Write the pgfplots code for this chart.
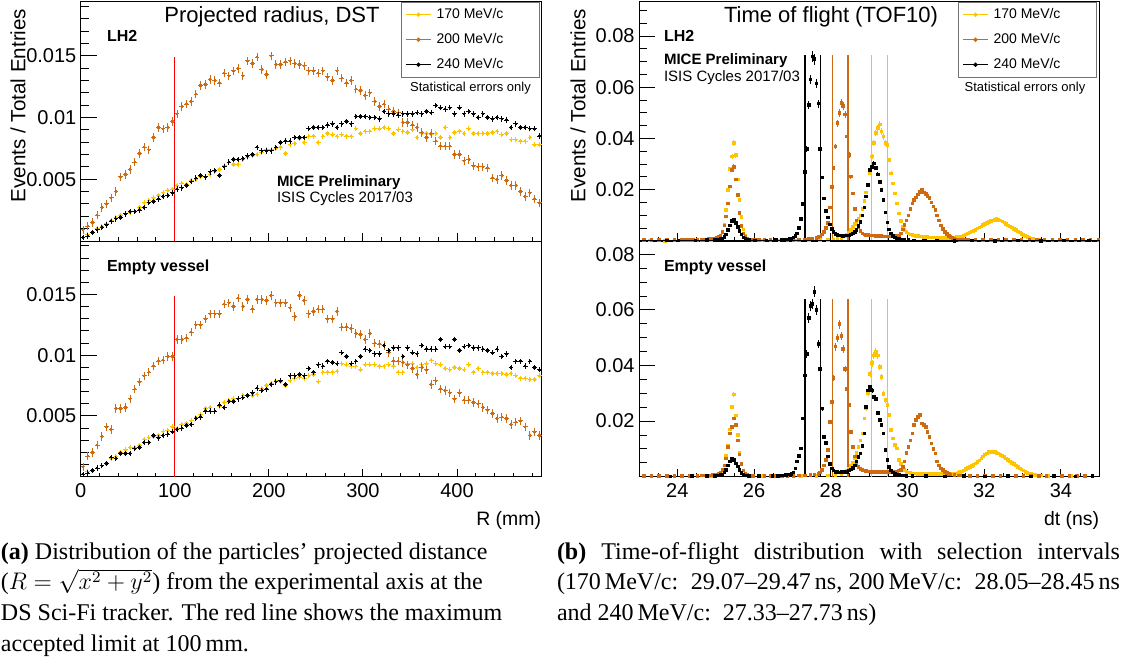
\documentclass[border=0pt]{standalone}
\usepackage{fontspec}
\setmainfont{Liberation Serif}
\setsansfont{Liberation Sans}
\usepackage{pgfplots}
\usepackage{pgfplotstable}
\pgfplotsset{compat=1.18}
\definecolor{c170}{RGB}{255,196,0}
\definecolor{c200}{RGB}{206,106,18}
\definecolor{c240}{RGB}{0,0,0}
\newcommand\tickfont{\sffamily\fontsize{10}{12}\selectfont}
\newcommand\legfont{\sffamily\fontsize{7}{8}\selectfont}

% ROOT-like cross: horizontal bar = bin width (5 mm), vertical bar = error (mark size), small dot
\pgfdeclareplotmark{rootcross}{%
  \pgfpathmoveto{\pgfqpoint{-1.18pt}{0pt}}\pgfpathlineto{\pgfqpoint{1.18pt}{0pt}}%
  \pgfpathmoveto{\pgfqpoint{0pt}{-\pgfplotmarksize}}\pgfpathlineto{\pgfqpoint{0pt}{\pgfplotmarksize}}%
  \pgfusepathqstroke
  \pgfpathrectangle{\pgfqpoint{-0.6pt}{-0.6pt}}{\pgfqpoint{1.2pt}{1.2pt}}\pgfusepathqfill}

\pgfplotsset{
 rootax/.style={scale only axis, anchor=south west, tick align=inside, xtick pos=left, ytick pos=left,
   axis line style={black, line width=0.5pt}, every tick/.style={black, line width=0.5pt},
   ticklabel style={font=\tickfont}, yticklabel style={inner sep=0pt, xshift=-2pt},
   xticklabel style={inner sep=0pt, yshift=-3pt}, scaled ticks=false,
   major tick length=8pt, minor tick length=4pt,
   major x tick style={/pgfplots/major tick length=4pt},
   minor x tick style={/pgfplots/minor tick length=2pt}},
 leftax/.style={xmin=0, xmax=490, ymin=0, ymax=0.0194, width=230.5pt,
   xtick={0,100,200,300,400}, minor xtick={20,40,60,80,120,140,160,180,220,240,260,280,320,340,360,380,420,440,460,480},
   ytick={0.005,0.01,0.015}, yticklabels={0.005,0.01,0.015},
   minor ytick={0.001,0.002,0.003,0.004,0.006,0.007,0.008,0.009,0.011,0.012,0.013,0.014,0.016,0.017,0.018,0.019}},
 rightax/.style={xmin=23, xmax=35, ymin=0, width=230.15pt,
   xtick={24,26,28,30,32,34}, minor xtick={23.5,24.5,25,25.5,26.5,27,27.5,28.5,29,29.5,30.5,31,31.5,32.5,33,33.5,34.5},
   ytick={0.02,0.04,0.06,0.08}, yticklabels={0.02,0.04,0.06,0.08},
   minor ytick={0.005,0.01,0.015,0.025,0.03,0.035,0.045,0.05,0.055,0.065,0.07,0.075,0.085,0.09}},
 ptL/.style={only marks, mark=rootcross, mark size=#1, mark options={line width=0.5pt}},
 pt/.style={only marks, mark=square*, mark size=0.65pt, color=#1, mark options={line width=0pt}},
 ebR/.style={error bars/.cd, y dir=both, y fixed relative=#1, error mark=none, error bar style={line width=0.5pt}},
 rootleg/.style={legend style={at={(#1,1)}, anchor=north east, draw=black!55, line width=0.5pt, fill=white,
   font=\legfont, inner xsep=2pt, inner ysep=0pt, row sep=0pt, column sep=2.5pt,
   nodes={inner sep=0pt, minimum height=12.5pt}}, legend cell align=left,
   legend image code/.code={\draw[##1, mark=none, line width=0.6pt] (0pt,0pt) -- (12.5pt,0pt); \fill[##1] (6.25pt,0pt) circle (0.8pt);}},
}

% Left panels: R (mm), 170 / 200 / 240 MeV/c
\pgfplotstableread[row sep=\\]{
R a b c\\
2.5 0.0003 0.0009 0.0003\\ 7.5 0.0005 0.0012 0.0004\\ 12.5 0.0007 0.0015 0.0007\\ 17.5 0.0010 0.0021 0.0009\\
22.5 0.0012 0.0027 0.0011\\ 27.5 0.0014 0.0030 0.0013\\ 32.5 0.0017 0.0035 0.0016\\ 37.5 0.0019 0.0040 0.0018\\
42.5 0.0021 0.0052 0.0019\\ 47.5 0.0022 0.0054 0.0022\\ 52.5 0.0023 0.0058 0.0024\\ 57.5 0.0024 0.0064 0.0024\\
62.5 0.0027 0.0071 0.0025\\ 67.5 0.0031 0.0076 0.0027\\ 72.5 0.0033 0.0074 0.0031\\ 77.5 0.0035 0.0084 0.0032\\
82.5 0.0037 0.0092 0.0034\\ 87.5 0.0039 0.0091 0.0036\\ 92.5 0.0041 0.0092 0.0037\\ 97.5 0.0042 0.0097 0.0039\\
102.5 0.0045 0.0103 0.0042\\ 107.5 0.0047 0.0109 0.0043\\ 112.5 0.0046 0.0111 0.0045\\ 117.5 0.0049 0.0113 0.0048\\
122.5 0.0050 0.0119 0.0051\\ 127.5 0.0052 0.0126 0.0053\\ 132.5 0.0052 0.0127 0.0052\\ 137.5 0.0054 0.0131 0.0056\\
142.5 0.0056 0.0130 0.0057\\ 147.5 0.0058 0.0128 0.0053\\ 152.5 0.0061 0.0136 0.0060\\ 157.5 0.0064 0.0134 0.0064\\
162.5 0.0062 0.0138 0.0066\\ 167.5 0.0062 0.0140 0.0066\\ 172.5 0.0066 0.0134 0.0067\\ 177.5 0.0068 0.0146 0.0069\\
182.5 0.0069 0.0144 0.0070\\ 187.5 0.0070 0.0149 0.0076\\ 192.5 0.0072 0.0139 0.0073\\ 197.5 0.0074 0.0135 0.0073\\
202.5 0.0074 0.0150 0.0073\\ 207.5 0.0075 0.0143 0.0076\\ 212.5 0.0076 0.0143 0.0080\\ 217.5 0.0071 0.0145 0.0081\\
222.5 0.0078 0.0146 0.0081\\ 227.5 0.0079 0.0144 0.0084\\ 232.5 0.0083 0.0143 0.0084\\ 237.5 0.0080 0.0142 0.0084\\
242.5 0.0085 0.0138 0.0091\\ 247.5 0.0085 0.0138 0.0092\\ 252.5 0.0080 0.0136 0.0092\\ 257.5 0.0085 0.0138 0.0092\\
262.5 0.0087 0.0133 0.0094\\ 267.5 0.0086 0.0130 0.0095\\ 272.5 0.0085 0.0138 0.0092\\ 277.5 0.0086 0.0132 0.0095\\
282.5 0.0085 0.0128 0.0097\\ 287.5 0.0085 0.0130 0.0095\\ 292.5 0.0091 0.0123 0.0101\\ 297.5 0.0087 0.0122 0.0101\\
302.5 0.0089 0.0118 0.0101\\ 307.5 0.0089 0.0120 0.0100\\ 312.5 0.0091 0.0113 0.0100\\ 317.5 0.0091 0.0109 0.0099\\
322.5 0.0092 0.0111 0.0105\\ 327.5 0.0091 0.0107 0.0103\\ 332.5 0.0087 0.0105 0.0103\\ 337.5 0.0090 0.0104 0.0102\\
342.5 0.0089 0.0096 0.0103\\ 347.5 0.0088 0.0096 0.0103\\ 352.5 0.0090 0.0094 0.0103\\ 357.5 0.0084 0.0092 0.0104\\
362.5 0.0087 0.0088 0.0103\\ 367.5 0.0087 0.0084 0.0105\\ 372.5 0.0086 0.0087 0.0104\\ 377.5 0.0087 0.0081 0.0110\\
382.5 0.0084 0.0077 0.0108\\ 387.5 0.0092 0.0077 0.0107\\ 392.5 0.0084 0.0077 0.0108\\ 397.5 0.0088 0.0070 0.0103\\
402.5 0.0089 0.0070 0.0108\\ 407.5 0.0087 0.0065 0.0103\\ 412.5 0.0091 0.0066 0.0105\\ 417.5 0.0087 0.0061 0.0103\\
422.5 0.0087 0.0060 0.0100\\ 427.5 0.0087 0.0060 0.0103\\ 432.5 0.0087 0.0059 0.0100\\ 437.5 0.0088 0.0051 0.0099\\
442.5 0.0089 0.0050 0.0100\\ 447.5 0.0086 0.0053 0.0099\\ 452.5 0.0087 0.0049 0.0098\\ 457.5 0.0082 0.0045 0.0092\\
462.5 0.0082 0.0045 0.0095\\ 467.5 0.0081 0.0040 0.0092\\ 472.5 0.0081 0.0036 0.0092\\ 477.5 0.0084 0.0039 0.0091\\
482.5 0.0078 0.0034 0.0091\\ 487.5 0.0078 0.0031 0.0085\\
}\LT

\pgfplotstableread[row sep=\\]{
R a b c\\
2.5 0.0002 0.0008 0.0002\\ 7.5 0.0004 0.0017 0.0003\\ 12.5 0.0005 0.0020 0.0005\\ 17.5 0.0007 0.0026 0.0007\\
22.5 0.0009 0.0033 0.0009\\ 27.5 0.0011 0.0041 0.0011\\ 32.5 0.0015 0.0039 0.0016\\ 37.5 0.0017 0.0056 0.0015\\
42.5 0.0020 0.0056 0.0019\\ 47.5 0.0022 0.0057 0.0019\\ 52.5 0.0024 0.0064 0.0019\\ 57.5 0.0024 0.0072 0.0023\\
62.5 0.0026 0.0078 0.0024\\ 67.5 0.0031 0.0083 0.0028\\ 72.5 0.0032 0.0086 0.0028\\ 77.5 0.0033 0.0091 0.0034\\
82.5 0.0034 0.0095 0.0032\\ 87.5 0.0037 0.0096 0.0034\\ 92.5 0.0038 0.0099 0.0035\\ 97.5 0.0041 0.0099 0.0037\\
102.5 0.0040 0.0113 0.0039\\ 107.5 0.0043 0.0113 0.0040\\ 112.5 0.0044 0.0114 0.0042\\ 117.5 0.0046 0.0119 0.0043\\
122.5 0.0049 0.0125 0.0048\\ 127.5 0.0051 0.0125 0.0049\\ 132.5 0.0056 0.0130 0.0054\\ 137.5 0.0057 0.0134 0.0054\\
142.5 0.0054 0.0134 0.0054\\ 147.5 0.0058 0.0134 0.0059\\ 152.5 0.0061 0.0142 0.0057\\ 157.5 0.0063 0.0143 0.0062\\
162.5 0.0064 0.0140 0.0062\\ 167.5 0.0064 0.0147 0.0064\\ 172.5 0.0067 0.0140 0.0065\\ 177.5 0.0067 0.0146 0.0067\\
182.5 0.0067 0.0138 0.0069\\ 187.5 0.0068 0.0146 0.0073\\ 192.5 0.0073 0.0146 0.0071\\ 197.5 0.0075 0.0145 0.0072\\
202.5 0.0077 0.0149 0.0076\\ 207.5 0.0079 0.0143 0.0078\\ 212.5 0.0078 0.0143 0.0079\\ 217.5 0.0075 0.0143 0.0076\\
222.5 0.0079 0.0139 0.0083\\ 227.5 0.0081 0.0132 0.0083\\ 232.5 0.0082 0.0149 0.0084\\ 237.5 0.0081 0.0145 0.0083\\
242.5 0.0083 0.0134 0.0089\\ 247.5 0.0084 0.0136 0.0086\\ 252.5 0.0078 0.0138 0.0092\\ 257.5 0.0086 0.0138 0.0091\\
262.5 0.0086 0.0130 0.0095\\ 267.5 0.0086 0.0130 0.0094\\ 272.5 0.0087 0.0136 0.0093\\ 277.5 0.0093 0.0123 0.0102\\
282.5 0.0092 0.0123 0.0099\\ 287.5 0.0091 0.0122 0.0093\\ 292.5 0.0091 0.0118 0.0095\\ 297.5 0.0088 0.0117 0.0099\\
302.5 0.0092 0.0113 0.0105\\ 307.5 0.0092 0.0118 0.0104\\ 312.5 0.0092 0.0110 0.0101\\ 317.5 0.0091 0.0109 0.0101\\
322.5 0.0091 0.0108 0.0108\\ 327.5 0.0092 0.0102 0.0104\\ 332.5 0.0091 0.0095 0.0106\\ 337.5 0.0086 0.0095 0.0106\\
342.5 0.0086 0.0094 0.0099\\ 347.5 0.0093 0.0092 0.0106\\ 352.5 0.0093 0.0089 0.0102\\ 357.5 0.0090 0.0084 0.0101\\
362.5 0.0092 0.0090 0.0108\\ 367.5 0.0093 0.0088 0.0105\\ 372.5 0.0096 0.0076 0.0105\\ 377.5 0.0093 0.0079 0.0105\\
382.5 0.0092 0.0072 0.0113\\ 387.5 0.0089 0.0071 0.0107\\ 392.5 0.0088 0.0069 0.0107\\ 397.5 0.0090 0.0064 0.0113\\
402.5 0.0089 0.0069 0.0104\\ 407.5 0.0088 0.0063 0.0107\\ 412.5 0.0092 0.0063 0.0108\\ 417.5 0.0086 0.0061 0.0106\\
422.5 0.0089 0.0060 0.0106\\ 427.5 0.0086 0.0057 0.0105\\ 432.5 0.0086 0.0055 0.0104\\ 437.5 0.0085 0.0052 0.0102\\
442.5 0.0085 0.0048 0.0105\\ 447.5 0.0085 0.0049 0.0099\\ 452.5 0.0084 0.0048 0.0101\\ 457.5 0.0085 0.0043 0.0090\\
462.5 0.0083 0.0045 0.0095\\ 467.5 0.0081 0.0046 0.0095\\ 472.5 0.0081 0.0041 0.0091\\ 477.5 0.0080 0.0034 0.0095\\
482.5 0.0080 0.0037 0.0090\\ 487.5 0.0083 0.0034 0.0088\\
}\LB

% Right top (LH2)
\pgfplotstableread[row sep=\\]{
t y\\
23.275 0.0002\\ 23.675 0.0001\\ 24.325 0.0002\\ 24.675 0.0002\\ 24.875 0.0004\\ 24.975 0.0006\\ 25.025 0.0008\\ 25.075 0.0012\\
25.125 0.0020\\ 25.175 0.0035\\ 25.225 0.0065\\ 25.275 0.0120\\ 25.325 0.0200\\ 25.375 0.0280\\ 25.425 0.0330\\ 25.475 0.0382\\
25.525 0.0335\\ 25.575 0.0240\\ 25.625 0.0160\\ 25.675 0.0094\\ 25.725 0.0045\\ 25.775 0.0022\\ 25.825 0.0010\\ 25.875 0.0005\\
25.975 0.0003\\ 26.225 0.0002\\ 26.675 0.0002\\ 27.125 0.0002\\ 27.425 0.0002\\ 27.725 0.0003\\ 27.925 0.0004\\ 28.075 0.0006\\
28.175 0.0008\\ 28.275 0.0012\\ 28.375 0.0018\\ 28.425 0.0024\\ 28.475 0.0032\\ 28.525 0.0042\\ 28.575 0.0055\\ 28.625 0.0066\\
28.675 0.0075\\ 28.725 0.0085\\ 28.775 0.0100\\ 28.825 0.0125\\ 28.875 0.0155\\ 28.925 0.0190\\ 28.975 0.0220\\ 29.025 0.0264\\
29.075 0.0330\\ 29.125 0.0382\\ 29.175 0.0421\\ 29.225 0.0440\\ 29.275 0.0454\\ 29.325 0.0427\\ 29.375 0.0408\\ 29.425 0.0382\\
29.475 0.0375\\ 29.525 0.0316\\ 29.575 0.0264\\ 29.625 0.0225\\ 29.675 0.0186\\ 29.725 0.0146\\ 29.775 0.0107\\ 29.825 0.0078\\
29.875 0.0055\\ 29.925 0.0042\\ 29.975 0.0034\\ 30.025 0.0029\\ 30.075 0.0026\\ 30.125 0.0024\\ 30.175 0.0022\\ 30.225 0.0020\\
30.275 0.0019\\ 30.325 0.0018\\ 30.375 0.0017\\ 30.425 0.0016\\ 30.475 0.0015\\ 30.525 0.0015\\ 30.575 0.0014\\ 30.625 0.0014\\
30.675 0.0013\\ 30.725 0.0013\\ 30.775 0.0012\\ 30.825 0.0012\\ 30.875 0.0012\\ 30.925 0.0012\\ 30.975 0.0012\\ 31.025 0.0012\\
31.075 0.0012\\ 31.125 0.0013\\ 31.175 0.0013\\ 31.225 0.0014\\ 31.275 0.0015\\ 31.325 0.0016\\ 31.375 0.0017\\ 31.425 0.0018\\
31.475 0.0021\\ 31.525 0.0025\\ 31.575 0.0029\\ 31.625 0.0033\\ 31.675 0.0037\\ 31.725 0.0040\\ 31.775 0.0044\\ 31.825 0.0049\\
31.875 0.0053\\ 31.925 0.0057\\ 31.975 0.0062\\ 32.025 0.0066\\ 32.075 0.0070\\ 32.125 0.0074\\ 32.175 0.0077\\ 32.225 0.0080\\
32.275 0.0083\\ 32.325 0.0085\\ 32.375 0.0083\\ 32.425 0.0080\\ 32.475 0.0076\\ 32.525 0.0072\\ 32.575 0.0066\\ 32.625 0.0061\\
32.675 0.0057\\ 32.725 0.0052\\ 32.775 0.0047\\ 32.825 0.0042\\ 32.875 0.0037\\ 32.925 0.0033\\ 32.975 0.0027\\ 33.025 0.0023\\
33.075 0.0019\\ 33.125 0.0015\\ 33.175 0.0012\\ 33.225 0.0010\\ 33.275 0.0008\\ 33.325 0.0006\\ 33.425 0.0004\\ 33.575 0.0003\\
33.775 0.0002\\ 34.175 0.0002\\ 34.575 0.0002\\
}\RTa

\pgfplotstableread[row sep=\\]{
t y\\
23.125 0.0003\\ 23.325 0.0003\\ 23.525 0.0003\\ 23.725 0.0003\\ 23.925 0.0003\\ 24.125 0.0003\\ 24.225 0.0003\\ 24.325 0.0004\\
24.425 0.0004\\ 24.525 0.0004\\ 24.625 0.0005\\ 24.725 0.0005\\ 24.825 0.0007\\ 24.925 0.0009\\ 24.975 0.0010\\ 25.025 0.0012\\
25.075 0.0015\\ 25.125 0.0022\\ 25.175 0.0035\\ 25.225 0.0060\\ 25.275 0.0095\\ 25.325 0.0146\\ 25.375 0.0212\\ 25.425 0.0277\\
25.475 0.0290\\ 25.525 0.0240\\ 25.575 0.0180\\ 25.625 0.0110\\ 25.675 0.0058\\ 25.725 0.0030\\ 25.775 0.0015\\ 25.825 0.0008\\
25.875 0.0005\\ 25.925 0.0004\\ 26.025 0.0003\\ 26.125 0.0003\\ 26.275 0.0003\\ 26.425 0.0003\\ 26.575 0.0003\\ 26.725 0.0003\\
26.875 0.0004\\ 27.025 0.0004\\ 27.175 0.0005\\ 27.325 0.0006\\ 27.425 0.0007\\ 27.525 0.0008\\ 27.625 0.0012\\ 27.675 0.0015\\
27.725 0.0018\\ 27.775 0.0025\\ 27.825 0.0035\\ 27.875 0.0050\\ 27.925 0.0070\\ 27.975 0.0130\\ 28.025 0.0210\\ 28.075 0.0284\\
28.125 0.0369\\ 28.175 0.0460\\ 28.225 0.0500\\ 28.275 0.0539\\ 28.325 0.0526\\ 28.375 0.0493\\ 28.425 0.0408\\ 28.475 0.0336\\
28.525 0.0251\\ 28.575 0.0186\\ 28.625 0.0125\\ 28.675 0.0080\\ 28.725 0.0052\\ 28.775 0.0038\\ 28.825 0.0030\\ 28.875 0.0026\\
28.925 0.0024\\ 28.975 0.0023\\ 29.025 0.0022\\ 29.075 0.0022\\ 29.125 0.0021\\ 29.175 0.0020\\ 29.225 0.0020\\ 29.275 0.0019\\
29.325 0.0019\\ 29.375 0.0018\\ 29.425 0.0018\\ 29.475 0.0018\\ 29.525 0.0017\\ 29.575 0.0017\\ 29.625 0.0018\\ 29.675 0.0019\\
29.725 0.0020\\ 29.775 0.0022\\ 29.825 0.0030\\ 29.875 0.0045\\ 29.925 0.0062\\ 29.975 0.0080\\ 30.025 0.0100\\ 30.075 0.0125\\
30.125 0.0146\\ 30.175 0.0160\\ 30.225 0.0170\\ 30.275 0.0182\\ 30.325 0.0192\\ 30.375 0.0198\\ 30.425 0.0190\\ 30.475 0.0183\\
30.525 0.0176\\ 30.575 0.0168\\ 30.625 0.0150\\ 30.675 0.0135\\ 30.725 0.0122\\ 30.775 0.0100\\ 30.825 0.0080\\ 30.875 0.0060\\
30.925 0.0046\\ 30.975 0.0036\\ 31.025 0.0028\\ 31.075 0.0020\\ 31.125 0.0015\\ 31.175 0.0011\\ 31.225 0.0008\\ 31.275 0.0006\\
31.375 0.0005\\ 31.475 0.0004\\ 31.575 0.0004\\ 31.775 0.0003\\ 31.975 0.0003\\ 32.175 0.0003\\ 32.375 0.0003\\ 32.575 0.0003\\
32.775 0.0003\\ 32.975 0.0003\\ 33.175 0.0003\\ 33.375 0.0003\\ 33.575 0.0003\\ 33.775 0.0003\\ 33.975 0.0003\\ 34.175 0.0003\\
34.375 0.0003\\ 34.575 0.0003\\ 34.775 0.0003\\ 34.975 0.0003\\
}\RTb

\pgfplotstableread[row sep=\\]{
t y\\
23.725 0.0002\\ 24.025 0.0002\\ 24.475 0.0002\\ 24.775 0.0003\\ 24.975 0.0004\\ 25.075 0.0005\\ 25.125 0.0007\\ 25.175 0.0010\\
25.225 0.0016\\ 25.275 0.0025\\ 25.325 0.0042\\ 25.375 0.0061\\ 25.425 0.0078\\ 25.475 0.0081\\ 25.525 0.0070\\ 25.575 0.0055\\
25.625 0.0040\\ 25.675 0.0026\\ 25.725 0.0014\\ 25.775 0.0008\\ 25.825 0.0004\\ 25.875 0.0003\\ 26.025 0.0002\\ 26.325 0.0002\\
26.575 0.0003\\ 26.725 0.0004\\ 26.825 0.0006\\ 26.925 0.0009\\ 26.975 0.0010\\ 27.025 0.0013\\ 27.075 0.0020\\ 27.125 0.0030\\
27.175 0.0050\\ 27.225 0.0085\\ 27.275 0.0144\\ 27.325 0.0270\\ 27.375 0.0360\\ 27.425 0.0530\\ 27.475 0.0630\\ 27.525 0.0720\\
27.575 0.0710\\ 27.625 0.0614\\ 27.675 0.0536\\ 27.725 0.0358\\ 27.775 0.0248\\ 27.825 0.0166\\ 27.875 0.0118\\ 27.925 0.0091\\
27.975 0.0065\\ 28.025 0.0048\\ 28.075 0.0036\\ 28.125 0.0028\\ 28.175 0.0024\\ 28.225 0.0022\\ 28.275 0.0022\\ 28.325 0.0020\\
28.375 0.0022\\ 28.425 0.0021\\ 28.475 0.0022\\ 28.525 0.0025\\ 28.575 0.0029\\ 28.625 0.0035\\ 28.675 0.0042\\ 28.725 0.0058\\
28.775 0.0075\\ 28.825 0.0100\\ 28.875 0.0130\\ 28.925 0.0173\\ 28.975 0.0218\\ 29.025 0.0277\\ 29.075 0.0290\\ 29.125 0.0303\\
29.175 0.0284\\ 29.225 0.0260\\ 29.275 0.0230\\ 29.325 0.0200\\ 29.375 0.0160\\ 29.425 0.0112\\ 29.475 0.0072\\ 29.525 0.0045\\
29.575 0.0030\\ 29.625 0.0020\\ 29.675 0.0014\\ 29.725 0.0010\\ 29.775 0.0008\\ 29.825 0.0006\\ 29.875 0.0005\\ 29.925 0.0004\\
30.025 0.0003\\ 30.175 0.0002\\ 30.425 0.0002\\ 30.775 0.0002\\ 31.225 0.0001\\ 31.675 0.0002\\ 32.275 0.0001\\ 32.875 0.0002\\
33.475 0.0001\\ 34.075 0.0002\\ 34.725 0.0002\\
}\RTc

% Right bottom (Empty vessel)
\pgfplotstableread[row sep=\\]{
t y\\
23.325 0.0002\\ 23.825 0.0001\\ 24.525 0.0002\\ 24.875 0.0003\\ 24.975 0.0005\\ 25.025 0.0007\\ 25.075 0.0008\\ 25.125 0.0010\\
25.175 0.0020\\ 25.225 0.0040\\ 25.275 0.0075\\ 25.325 0.0110\\ 25.375 0.0170\\ 25.425 0.0250\\ 25.475 0.0296\\ 25.525 0.0220\\
25.575 0.0150\\ 25.625 0.0085\\ 25.675 0.0045\\ 25.725 0.0022\\ 25.775 0.0010\\ 25.825 0.0005\\ 25.925 0.0003\\ 26.225 0.0002\\
26.725 0.0002\\ 27.225 0.0002\\ 27.625 0.0003\\ 27.925 0.0004\\ 28.125 0.0006\\ 28.275 0.0008\\ 28.375 0.0015\\ 28.425 0.0022\\
28.475 0.0030\\ 28.525 0.0038\\ 28.575 0.0050\\ 28.625 0.0065\\ 28.675 0.0085\\ 28.725 0.0107\\ 28.775 0.0130\\ 28.825 0.0155\\
28.875 0.0209\\ 28.925 0.0245\\ 28.975 0.0300\\ 29.025 0.0370\\ 29.075 0.0408\\ 29.125 0.0436\\ 29.175 0.0448\\ 29.225 0.0436\\
29.275 0.0394\\ 29.325 0.0358\\ 29.375 0.0298\\ 29.425 0.0275\\ 29.475 0.0257\\ 29.525 0.0221\\ 29.575 0.0167\\ 29.625 0.0137\\
29.675 0.0115\\ 29.725 0.0101\\ 29.775 0.0060\\ 29.825 0.0045\\ 29.875 0.0036\\ 29.925 0.0025\\ 29.975 0.0018\\ 30.025 0.0015\\
30.075 0.0013\\ 30.125 0.0012\\ 30.175 0.0011\\ 30.225 0.0011\\ 30.275 0.0010\\ 30.325 0.0010\\ 30.375 0.0010\\ 30.425 0.0010\\
30.475 0.0009\\ 30.525 0.0009\\ 30.575 0.0009\\ 30.625 0.0009\\ 30.675 0.0009\\ 30.725 0.0009\\ 30.775 0.0009\\ 30.825 0.0009\\
30.875 0.0009\\ 30.925 0.0009\\ 30.975 0.0009\\ 31.025 0.0009\\ 31.075 0.0009\\ 31.125 0.0010\\ 31.175 0.0010\\ 31.225 0.0011\\
31.275 0.0012\\ 31.325 0.0014\\ 31.375 0.0016\\ 31.425 0.0019\\ 31.475 0.0023\\ 31.525 0.0027\\ 31.575 0.0031\\ 31.625 0.0035\\
31.675 0.0039\\ 31.725 0.0042\\ 31.775 0.0047\\ 31.825 0.0053\\ 31.875 0.0059\\ 31.925 0.0066\\ 31.975 0.0073\\ 32.025 0.0080\\
32.075 0.0084\\ 32.125 0.0088\\ 32.175 0.0089\\ 32.225 0.0090\\ 32.275 0.0088\\ 32.325 0.0086\\ 32.375 0.0084\\ 32.425 0.0079\\
32.475 0.0075\\ 32.525 0.0070\\ 32.575 0.0065\\ 32.625 0.0061\\ 32.675 0.0055\\ 32.725 0.0050\\ 32.775 0.0045\\ 32.825 0.0040\\
32.875 0.0035\\ 32.925 0.0030\\ 32.975 0.0026\\ 33.025 0.0022\\ 33.075 0.0018\\ 33.125 0.0014\\ 33.175 0.0011\\ 33.225 0.0009\\
33.325 0.0006\\ 33.475 0.0004\\ 33.675 0.0002\\ 34.275 0.0002\\
}\RBa

\pgfplotstableread[row sep=\\]{
t y\\
23.125 0.0002\\ 23.325 0.0002\\ 23.525 0.0002\\ 23.725 0.0002\\ 23.925 0.0002\\ 24.125 0.0003\\ 24.325 0.0003\\ 24.525 0.0003\\
24.625 0.0004\\ 24.725 0.0004\\ 24.825 0.0005\\ 24.925 0.0007\\ 25.025 0.0008\\ 25.075 0.0010\\ 25.125 0.0015\\ 25.175 0.0025\\
25.225 0.0040\\ 25.275 0.0065\\ 25.325 0.0107\\ 25.375 0.0155\\ 25.425 0.0179\\ 25.475 0.0209\\ 25.525 0.0185\\ 25.575 0.0130\\
25.625 0.0080\\ 25.675 0.0045\\ 25.725 0.0022\\ 25.775 0.0012\\ 25.825 0.0006\\ 25.875 0.0004\\ 25.975 0.0003\\ 26.125 0.0003\\
26.275 0.0002\\ 26.425 0.0002\\ 26.575 0.0003\\ 26.725 0.0003\\ 26.875 0.0003\\ 27.025 0.0003\\ 27.175 0.0004\\ 27.325 0.0005\\
27.475 0.0006\\ 27.575 0.0008\\ 27.675 0.0010\\ 27.725 0.0015\\ 27.775 0.0025\\ 27.825 0.0040\\ 27.875 0.0060\\ 27.925 0.0095\\
27.975 0.0197\\ 28.025 0.0269\\ 28.075 0.0356\\ 28.125 0.0468\\ 28.175 0.0500\\ 28.225 0.0549\\ 28.275 0.0507\\ 28.325 0.0460\\
28.375 0.0388\\ 28.425 0.0316\\ 28.475 0.0257\\ 28.525 0.0160\\ 28.575 0.0107\\ 28.625 0.0072\\ 28.675 0.0048\\ 28.725 0.0035\\
28.775 0.0028\\ 28.825 0.0024\\ 28.875 0.0022\\ 28.925 0.0020\\ 28.975 0.0019\\ 29.025 0.0019\\ 29.075 0.0018\\ 29.125 0.0018\\
29.175 0.0017\\ 29.225 0.0017\\ 29.275 0.0017\\ 29.325 0.0016\\ 29.375 0.0016\\ 29.425 0.0016\\ 29.475 0.0016\\ 29.525 0.0015\\
29.575 0.0015\\ 29.625 0.0016\\ 29.675 0.0017\\ 29.725 0.0019\\ 29.775 0.0022\\ 29.825 0.0025\\ 29.875 0.0035\\ 29.925 0.0055\\
29.975 0.0085\\ 30.025 0.0107\\ 30.075 0.0130\\ 30.125 0.0155\\ 30.175 0.0185\\ 30.225 0.0203\\ 30.275 0.0215\\ 30.325 0.0221\\
30.375 0.0191\\ 30.425 0.0185\\ 30.475 0.0179\\ 30.525 0.0161\\ 30.575 0.0143\\ 30.625 0.0119\\ 30.675 0.0100\\ 30.725 0.0084\\
30.775 0.0054\\ 30.825 0.0040\\ 30.875 0.0030\\ 30.925 0.0024\\ 30.975 0.0018\\ 31.025 0.0013\\ 31.075 0.0010\\ 31.125 0.0008\\
31.225 0.0006\\ 31.325 0.0005\\ 31.425 0.0004\\ 31.625 0.0003\\ 31.825 0.0003\\ 32.025 0.0003\\ 32.225 0.0003\\ 32.425 0.0003\\
32.625 0.0003\\ 32.825 0.0003\\ 33.025 0.0003\\ 33.225 0.0003\\ 33.425 0.0003\\ 33.625 0.0003\\ 33.825 0.0003\\ 34.025 0.0003\\
34.225 0.0003\\ 34.425 0.0003\\ 34.625 0.0003\\ 34.825 0.0003\\
}\RBb

\pgfplotstableread[row sep=\\]{
t y\\
23.825 0.0001\\ 24.375 0.0002\\ 24.775 0.0002\\ 24.975 0.0003\\ 25.075 0.0004\\ 25.125 0.0006\\ 25.175 0.0008\\ 25.225 0.0015\\
25.275 0.0025\\ 25.325 0.0040\\ 25.375 0.0055\\ 25.425 0.0066\\ 25.475 0.0060\\ 25.525 0.0048\\ 25.575 0.0036\\ 25.625 0.0024\\
25.675 0.0013\\ 25.725 0.0007\\ 25.775 0.0004\\ 25.875 0.0002\\ 26.125 0.0002\\ 26.475 0.0002\\ 26.625 0.0003\\ 26.725 0.0004\\
26.825 0.0006\\ 26.925 0.0008\\ 26.975 0.0010\\ 27.025 0.0015\\ 27.075 0.0030\\ 27.125 0.0055\\ 27.175 0.0075\\ 27.225 0.0101\\
27.275 0.0209\\ 27.325 0.0364\\ 27.375 0.0442\\ 27.425 0.0571\\ 27.475 0.0615\\ 27.525 0.0621\\ 27.575 0.0665\\ 27.625 0.0600\\
27.675 0.0478\\ 27.725 0.0388\\ 27.775 0.0245\\ 27.825 0.0143\\ 27.875 0.0122\\ 27.925 0.0072\\ 27.975 0.0045\\ 28.025 0.0030\\
28.075 0.0022\\ 28.125 0.0018\\ 28.175 0.0016\\ 28.225 0.0015\\ 28.275 0.0016\\ 28.325 0.0015\\ 28.375 0.0016\\ 28.425 0.0018\\
28.475 0.0022\\ 28.525 0.0026\\ 28.575 0.0032\\ 28.625 0.0040\\ 28.675 0.0054\\ 28.725 0.0070\\ 28.775 0.0084\\ 28.825 0.0110\\
28.875 0.0155\\ 28.925 0.0250\\ 28.975 0.0310\\ 29.025 0.0322\\ 29.075 0.0310\\ 29.125 0.0287\\ 29.175 0.0280\\ 29.225 0.0230\\
29.275 0.0203\\ 29.325 0.0185\\ 29.375 0.0155\\ 29.425 0.0096\\ 29.475 0.0060\\ 29.525 0.0035\\ 29.575 0.0022\\ 29.625 0.0015\\
29.675 0.0010\\ 29.725 0.0008\\ 29.775 0.0006\\ 29.875 0.0004\\ 29.975 0.0003\\ 30.125 0.0002\\ 30.475 0.0002\\ 30.975 0.0001\\
31.475 0.0002\\ 32.025 0.0001\\ 32.625 0.0002\\ 33.225 0.0001\\ 33.825 0.0002\\ 34.375 0.0001\\ 34.825 0.0002\\
}\RBc

\begin{document}
\begin{tikzpicture}[x=0.5pt, y=0.5pt, txt/.style={inner sep=0pt, outer sep=0pt}]
\useasboundingbox (0pt,0pt) rectangle (562.5pt,333pt);

% ---------- top left ----------
\begin{axis}[rootax, leftax, at={(40.35pt,212.5pt)}, height=119.65pt, xticklabels={}, rootleg=0.9963]
\addplot[color=c170, ptL=1.25pt] table[x=R, y=a] {\LT}; \addlegendentry{170 MeV/c\hspace*{16pt}}
\addplot[color=c200, ptL=2.1pt] table[x=R, y=b] {\LT}; \addlegendentry{200 MeV/c\hspace*{16pt}}
\addplot[color=c240, ptL=1.35pt] table[x=R, y=c] {\LT}; \addlegendentry{240 MeV/c\hspace*{16pt}}
\addplot[red, line width=0.7pt, forget plot] coordinates {(100,0) (100,0.0149)};
\end{axis}

% ---------- bottom left ----------
\begin{axis}[rootax, leftax, at={(40.35pt,94.65pt)}, height=117.85pt, xticklabels={0,100,200,300,400}]
\addplot[color=c170, ptL=1.25pt] table[x=R, y=a] {\LB};
\addplot[color=c200, ptL=2.1pt] table[x=R, y=b] {\LB};
\addplot[color=c240, ptL=1.35pt] table[x=R, y=c] {\LB};
\addplot[red, line width=0.7pt] coordinates {(100,0) (100,0.0149)};
\end{axis}

% ---------- top right ----------
\begin{axis}[rootax, rightax, at={(319.5pt,212.5pt)}, height=119.65pt, ymax=0.0934, xticklabels={}, rootleg=0.995]
\addplot[pt=c170, ebR=0.03] table[x=t, y=y] {\RTa}; \addlegendentry{170 MeV/c\hspace*{16pt}}
\addplot[pt=c200, ebR=0.03] table[x=t, y=y] {\RTb}; \addlegendentry{200 MeV/c\hspace*{16pt}}
\addplot[pt=c240, ebR=0.03] table[x=t, y=y] {\RTc}; \addlegendentry{240 MeV/c\hspace*{16pt}}
\addplot[black, line width=0.6pt, forget plot] coordinates {(27.33,0) (27.33,0.0725)};
\addplot[black, line width=0.6pt, forget plot] coordinates {(27.73,0) (27.73,0.0725)};
\addplot[c200, line width=0.6pt, forget plot] coordinates {(28.05,0) (28.05,0.0725)};
\addplot[c200, line width=0.6pt, forget plot] coordinates {(28.45,0) (28.45,0.0725)};
\addplot[c170, line width=0.6pt, forget plot] coordinates {(29.07,0) (29.07,0.0725)};
\addplot[c170, line width=0.6pt, forget plot] coordinates {(29.47,0) (29.47,0.0725)};
\end{axis}

% ---------- bottom right ----------
\begin{axis}[rootax, rightax, at={(319.5pt,94.65pt)}, height=117.85pt, ymax=0.0848, xticklabels={24,26,28,30,32,34}]
\addplot[pt=c170, ebR=0.03] table[x=t, y=y] {\RBa};
\addplot[pt=c200, ebR=0.03] table[x=t, y=y] {\RBb};
\addplot[pt=c240, ebR=0.03] table[x=t, y=y] {\RBc};
\addplot[black, line width=0.6pt] coordinates {(27.33,0) (27.33,0.064)};
\addplot[black, line width=0.6pt] coordinates {(27.73,0) (27.73,0.064)};
\addplot[c200, line width=0.6pt] coordinates {(28.05,0) (28.05,0.064)};
\addplot[c200, line width=0.6pt] coordinates {(28.45,0) (28.45,0.064)};
\addplot[c170, line width=0.6pt] coordinates {(29.07,0) (29.07,0.064)};
\addplot[c170, line width=0.6pt] coordinates {(29.47,0) (29.47,0.064)};
\end{axis}

% ---------- texts ----------
\node[txt, font=\sffamily\fontsize{11}{13}\selectfont] at (272,649) {Projected radius, DST};
\node[txt, font=\sffamily\fontsize{11}{13}\selectfont] at (831,649) {Time of flight (TOF10)};
\node[txt, rotate=90, font=\sffamily\fontsize{10.3}{12}\selectfont] at (18,560.5) {Events / Total Entries};
\node[txt, rotate=90, font=\sffamily\fontsize{10.3}{12}\selectfont] at (578,560.5) {Events / Total Entries};
\node[txt, anchor=west, font=\sffamily\bfseries\fontsize{8}{10}\selectfont] at (107,630) {LH2};
\node[txt, anchor=west, font=\sffamily\bfseries\fontsize{8}{10}\selectfont] at (664,630) {LH2};
\node[txt, anchor=west, font=\sffamily\bfseries\fontsize{8}{10}\selectfont] at (107,399) {Empty vessel};
\node[txt, anchor=west, font=\sffamily\bfseries\fontsize{8}{10}\selectfont] at (664,399) {Empty vessel};
\node[txt, anchor=west, font=\sffamily\bfseries\fontsize{7.5}{9}\selectfont] at (277,483) {MICE Preliminary};
\node[txt, anchor=west, font=\sffamily\fontsize{7.5}{9}\selectfont] at (277,467) {ISIS Cycles 2017/03};
\node[txt, anchor=west, font=\sffamily\bfseries\fontsize{7.5}{9}\selectfont] at (664,605) {MICE Preliminary};
\node[txt, anchor=west, font=\sffamily\fontsize{7.5}{9}\selectfont] at (664,588) {ISIS Cycles 2017/03};
\node[txt, font=\sffamily\fontsize{6.5}{8}\selectfont] at (470.5,578) {Statistical errors only};
\node[txt, font=\sffamily\fontsize{6.5}{8}\selectfont] at (1025,578) {Statistical errors only};
\node[txt, anchor=east, font=\sffamily\fontsize{9.7}{12}\selectfont] at (541,146) {R (mm)};
\node[txt, anchor=east, font=\sffamily\fontsize{9.7}{12}\selectfont] at (1099,146) {dt (ns)};

% ---------- captions ----------
\begin{scope}[every node/.style={txt, anchor=base west, font=\fontsize{12}{15}\selectfont}]
\node at (1,107) {\textbf{(a)} Distribution of the particles’ projected distance};
\node at (1,77) {($R = \sqrt{x^2 + y^2}$) from the experimental axis at the};
\node at (1,46) {DS Sci-Fi tracker. The red line shows the maximum};
\node at (1,15) {accepted limit at 100\,mm.};
\node at (557,107) {\makebox[281.5pt][s]{\textbf{(b)} Time-of-flight distribution with selection intervals}};
\node at (557,77) {\makebox[281.5pt][s]{(170\,MeV/c:\ \ 29.07–29.47\,ns, 200\,MeV/c:\ \ 28.05–28.45\,ns}};
\node at (557,46) {and 240\,MeV/c:\ \ 27.33–27.73\,ns)};
\end{scope}
\end{tikzpicture}
\end{document}
